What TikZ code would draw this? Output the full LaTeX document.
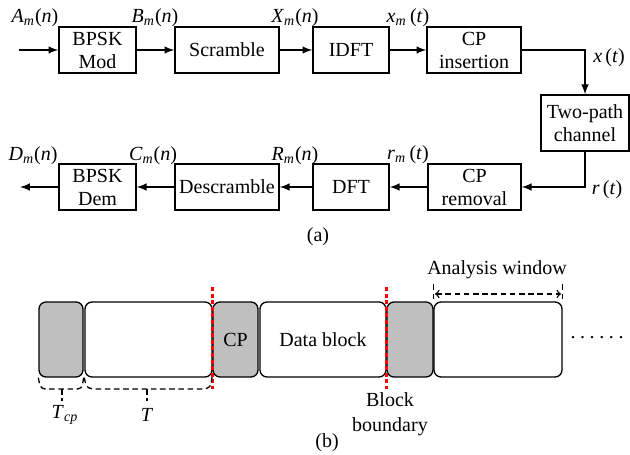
\documentclass[tikz,border=0pt]{standalone}
\usepackage{fontspec}
\setmainfont{Liberation Serif}
\usepackage{tikz}
\usetikzlibrary{positioning, arrows}
\newcommand{\sig}[3]{\textit{#1}\textsubscript{\textit{#2}}(\textit{#3})}
\newcommand{\sigt}[3]{\textit{#1}\textsubscript{\textit{#2}}\,(\textit{#3})}
\tikzset{x=0.5pt, y=-0.5pt,
         >=latex,
         every node/.style={font=\fontsize{10}{11.5}\selectfont},
         blk/.style={draw, line width=0.7pt, align=center, inner sep=0pt, minimum height=23pt},
         slot/.style={draw, line width=0.65pt, rounded corners=3.5pt, inner sep=0pt, minimum height=37.5pt},
         gslot/.style={slot, fill=black!25},
         bound/.style={red, line width=1.2pt, dash pattern=on 2pt off 1.3pt},
         wire/.style={line width=0.7pt},
         span/.style={line width=0.65pt, dash pattern=on 2.8pt off 1.8pt},
         }
\begin{document}
\begin{tikzpicture}
    \useasboundingbox (0,0) rectangle (630,454);
    % (a) transmitter / receiver chain
    \node[blk, minimum width=38.5pt] (mod) at (97.5,50) {BPSK\\Mod};
    \node[blk, minimum width=52pt] (scr) at (227,50) {Scramble};
    \node[blk, minimum width=38pt] (idft) at (351,50) {IDFT};
    \node[blk, minimum width=47pt] (cpins) at (474,50) {CP\\insertion};
    \node[blk, minimum width=44pt, minimum height=28pt] (chan) at (585,123) {Two-path\\channel};
    \node[blk, minimum width=46.5pt] (cprem) at (474.5,187) {CP\\removal};
    \node[blk, minimum width=38pt] (dft) at (351,187) {DFT};
    \node[blk, minimum width=52pt] (desc) at (227,187) {Descramble};
    \node[blk, minimum width=38.5pt] (dem) at (97.5,187) {BPSK\\Dem};
    \coordinate (in) at (19,50);
    \coordinate (out) at (20,187);

    \draw[wire, ->] (in) -- (mod);
    \draw[wire, ->] (mod) -- (scr);
    \draw[wire, ->] (scr) -- (idft);
    \draw[wire, ->] (idft) -- (cpins);
    \draw[wire, ->] (cpins.east) -| (chan.north);
    \draw[wire, ->] (chan.south) |- (cprem.east);
    \draw[wire, ->] (cprem) -- (dft);
    \draw[wire, ->] (dft) -- (desc);
    \draw[wire, ->] (desc) -- (dem);
    \draw[wire, ->] (dem) -- (out);

    \node (la) at (35,18) {\sig{A}{m}{n}};
    \node (lb) at (155,18) {\sig{B}{m}{n}};
    \node (lx) at (295,18) {\sig{X}{m}{n}};
    \node (lxt) at (408,18) {\sigt{x}{m}{t}};
    \node (lxc) at (609,58) {\textit{x}\,(\textit{t})};
    \node (lrc) at (607,190) {\textit{r}\,(\textit{t})};
    \node (lr) at (408,155) {\sigt{r}{m}{t}};
    \node (lR) at (295,156) {\sig{R}{m}{n}};
    \node (lc) at (153,156) {\sig{C}{m}{n}};
    \node (ld) at (33,156) {\sig{D}{m}{n}};
    \node (capa) at (318,237) {(a)};

    % (b) block structure
    \node[gslot, minimum width=22pt] (g1) at (61,339.5) {};
    \node[slot, minimum width=63.5pt] (w1) at (148.5,339.5) {};
    \node[gslot, minimum width=22.5pt] (g2) at (235.5,339.5) {CP};
    \node[slot, minimum width=63pt] (w2) at (323,339.5) {Data block};
    \node[gslot, minimum width=23pt] (g3) at (410,339.5) {};
    \node[slot, minimum width=64pt] (w3) at (498,339.5) {};
    \node[inner sep=0pt] (dots) at (597,338) {.\hspace{2.3pt}.\hspace{2.3pt}.\hspace{2.3pt}.\hspace{2.3pt}.\hspace{2.3pt}.};

    \draw[bound] (212.5,287) -- (212.5,389);
    \draw[bound] (386.5,287) -- (386.5,389);

    % braces under the first symbol
    \draw[span] (g1.south west) .. controls (40,389) and (42,389) .. (48,389)
        -- (75,389) .. controls (81,389) and (82,389) .. (g1.south east);
    \draw[span] (62,389) -- (62,401);
    \draw[span] (w1.south west) .. controls (86,389) and (89,389) .. (97,389)
        -- (200,389) .. controls (208,389) and (211,389) .. (212,377);
    \draw[span] (147,389) -- (147,401);
    \node (ltcp) at (65,415) {\textit{T}\textsubscript{\textit{cp}}};
    \node (lt) at (147,415) {\textit{T}};

    % analysis window
    \draw[span] (w3.north west) ++(0,-17) -- ++(0,17);
    \draw[span] (w3.north east) ++(0,-17) -- ++(0,17);
    \draw[span, <->, >=to] (435,294) -- (561,294);
    \node (lwin) at (497,270) {Analysis window};

    \node[align=center, font=\fontsize{10}{12.5}\selectfont] (lbound) at (390,414) {Block\\boundary};
    \node (capb) at (327,443) {(b)};
\end{tikzpicture}
\end{document}
